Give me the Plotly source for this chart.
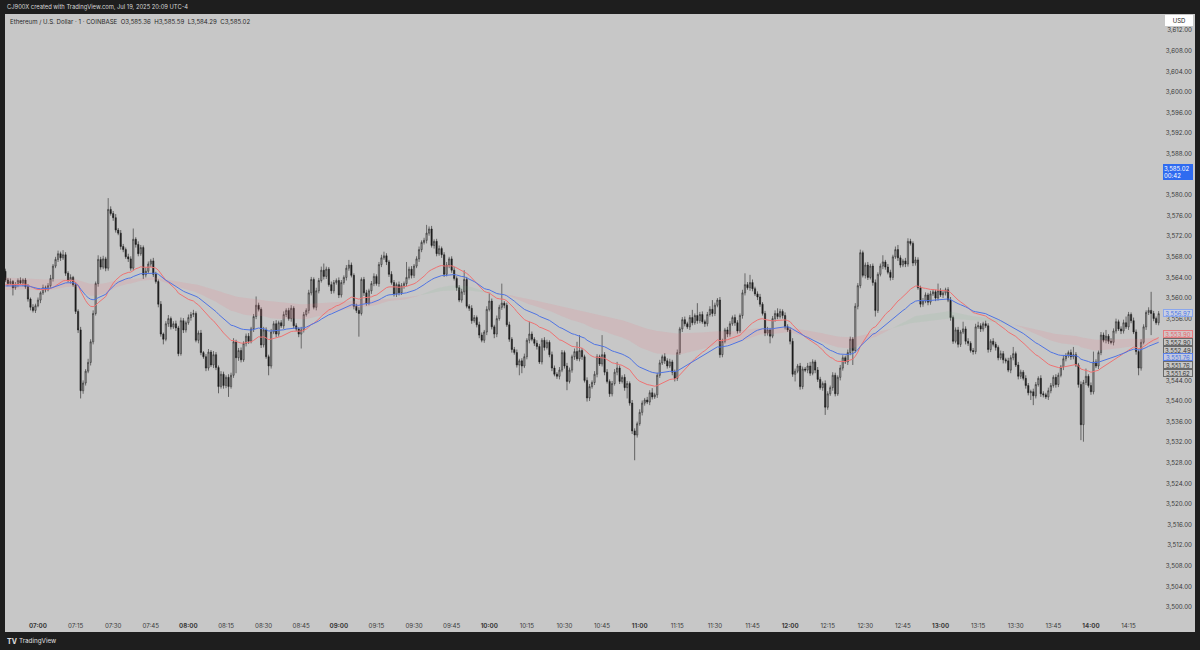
import plotly.graph_objects as go

# ---------------- data ----------------
start_time = "06:47"          # time of the first visible 1-minute candle
first_open = 3565.2

closes = [
    3563.5, 3562.8, 3563.2, 3562.0, 3562.6, 3563.4, 3562.9, 3563.5, 3562.2, 3559.8,
    3558.2, 3557.6, 3558.5, 3559.6, 3561.0, 3562.0, 3561.6, 3562.4, 3563.8, 3566.2,
    3567.5, 3568.6, 3567.8, 3568.4, 3564.8, 3563.4, 3564.0, 3562.6, 3557.4, 3553.8,
    3542.0, 3543.5, 3545.8, 3547.5, 3551.5, 3557.0, 3562.8, 3567.5, 3566.0, 3567.6,
    3565.8, 3577.2, 3576.4, 3575.6, 3573.2, 3572.6, 3570.0, 3569.4, 3568.0, 3567.6,
    3565.8, 3571.4, 3570.4, 3568.6, 3569.8, 3564.5, 3565.2, 3566.6, 3567.2, 3564.6,
    3563.2, 3558.8, 3553.0, 3552.0, 3555.0, 3556.0, 3554.4, 3555.0, 3554.2, 3549.2,
    3555.6, 3553.8, 3555.2, 3556.2, 3556.8, 3557.0, 3551.8, 3553.2, 3549.4, 3548.6,
    3546.4, 3549.5, 3547.0, 3549.0, 3546.5, 3542.8, 3545.2, 3543.0, 3544.6, 3542.8,
    3545.0, 3551.5, 3548.4, 3549.8, 3548.0, 3551.2, 3552.6, 3551.6, 3554.0, 3556.4,
    3558.6, 3557.8, 3550.9, 3553.8, 3548.6, 3546.8, 3553.4, 3555.0, 3553.0, 3555.2,
    3554.6, 3556.8, 3557.6, 3556.0, 3558.0, 3554.6, 3554.0, 3553.0, 3553.8, 3556.8,
    3557.6, 3561.0, 3563.6, 3558.2, 3561.4, 3563.4, 3565.4, 3564.2, 3565.6, 3562.6,
    3561.4, 3563.0, 3563.4, 3560.6, 3563.0, 3564.0, 3565.8, 3566.4, 3564.4, 3558.4,
    3557.6, 3557.0, 3563.6, 3561.0, 3559.0, 3561.4, 3562.8, 3564.2, 3562.8, 3566.5,
    3567.8, 3568.2, 3567.0, 3564.6, 3563.0, 3560.8, 3562.6, 3561.0, 3562.4, 3562.8,
    3564.0, 3565.6, 3564.4, 3566.2, 3567.6, 3569.4, 3570.8, 3571.2, 3572.6, 3573.4,
    3570.2, 3571.0, 3568.6, 3569.6, 3568.4, 3564.6, 3566.4, 3567.6, 3565.4, 3563.8,
    3562.0, 3559.6, 3561.2, 3563.6, 3558.4, 3558.0, 3555.6, 3556.2, 3554.8, 3552.8,
    3551.8, 3553.4, 3557.8, 3559.4, 3554.4, 3553.0, 3556.0, 3558.2, 3559.0, 3558.6,
    3554.8, 3552.0, 3550.0, 3549.4, 3547.0, 3547.8, 3546.8, 3548.6, 3551.8, 3553.0,
    3552.0, 3551.2, 3550.6, 3547.6, 3551.8, 3550.4, 3551.4, 3549.0, 3546.4, 3545.2,
    3544.8, 3546.0, 3549.4, 3546.8, 3543.8, 3546.0, 3548.6, 3549.6, 3548.2, 3549.8,
    3548.6, 3544.0, 3540.6, 3542.8, 3543.6, 3545.2, 3548.6, 3547.2, 3549.0, 3545.6,
    3543.8, 3541.4, 3543.4, 3545.6, 3546.4, 3543.8, 3544.6, 3542.6, 3543.4, 3539.6,
    3534.2, 3533.4, 3535.6, 3537.8, 3539.6, 3540.2, 3539.8, 3541.6, 3540.8, 3541.2,
    3545.0, 3547.4, 3548.6, 3547.8, 3546.8, 3547.6, 3545.6, 3544.4, 3549.4, 3554.0,
    3555.8, 3555.0, 3554.4, 3556.2, 3555.2, 3556.6, 3555.6, 3556.8, 3555.4, 3555.0,
    3556.8, 3557.8, 3557.0, 3558.6, 3559.6, 3549.0, 3551.6, 3553.8, 3553.0, 3555.0,
    3556.2, 3555.2, 3553.6, 3556.6, 3561.0, 3562.6, 3562.0, 3563.0, 3561.8, 3560.8,
    3560.2, 3558.8, 3557.0, 3553.2, 3553.8, 3552.6, 3556.0, 3557.0, 3556.4, 3557.4,
    3556.6, 3554.4, 3553.8, 3551.6, 3545.2, 3545.8, 3546.8, 3542.8, 3546.2, 3546.0,
    3546.8, 3545.4, 3547.6, 3546.0, 3544.2, 3542.6, 3543.4, 3538.8, 3541.4, 3542.6,
    3545.0, 3541.4, 3544.6, 3546.4, 3548.4, 3547.6, 3549.4, 3552.0, 3549.8, 3558.4,
    3562.4, 3568.8, 3564.4, 3566.4, 3564.0, 3566.2, 3563.0, 3557.6, 3564.6, 3566.2,
    3567.0, 3566.0, 3565.0, 3564.0, 3568.0, 3569.4, 3567.8, 3566.4, 3567.2, 3566.6,
    3571.0, 3570.6, 3566.8, 3567.4, 3562.0, 3558.8, 3559.4, 3560.6, 3559.2, 3560.8,
    3561.2, 3560.0, 3561.4, 3560.6, 3561.0, 3561.6, 3559.6, 3556.2, 3551.6, 3553.8,
    3551.0, 3553.4, 3554.0, 3551.6, 3551.2, 3549.8, 3549.6, 3554.4, 3554.6, 3554.0,
    3555.0, 3554.6, 3550.0, 3551.6, 3551.0, 3550.4, 3548.4, 3549.2, 3548.0, 3547.8,
    3546.0, 3548.4, 3549.2, 3547.0, 3544.8, 3545.6, 3544.4, 3543.0, 3541.6, 3541.8,
    3541.0, 3543.2, 3544.4, 3541.4, 3541.2, 3540.8, 3542.0, 3543.0, 3544.6, 3543.2,
    3545.0, 3546.6, 3548.2, 3548.8, 3549.4, 3548.6, 3549.0, 3547.0, 3543.2, 3535.4,
    3543.6, 3544.8, 3543.0, 3541.8, 3547.6, 3546.8, 3549.4, 3552.8, 3551.8, 3552.6,
    3551.6, 3551.4, 3553.6, 3555.4, 3554.0, 3553.6, 3555.2, 3554.4, 3556.8, 3555.6,
    3553.4, 3549.6, 3546.4, 3551.4, 3554.4, 3557.2, 3557.6, 3557.0, 3556.0, 3555.2, 3556.97,
]

upper_wick = [
    0.5, 0.4, 0.6, 0.3, 0.5, 0.4, 0.6, 0.3, 0.4, 0.5,
    0.3, 0.6, 0.4, 0.5, 0.3, 0.6, 0.4, 0.5, 0.7, 0.4,
    0.5, 0.6, 0.4, 0.9, 0.5, 0.4, 0.6, 0.3, 0.5, 0.4,
    0.6, 0.5, 0.4, 0.7, 0.5, 0.6, 0.4, 0.8, 0.5, 0.6,
    0.4, 2.2, 0.6, 0.5, 0.7, 0.4, 0.6, 0.5, 0.4, 0.6,
    0.5, 2.1, 0.4, 0.6, 0.5, 0.4, 0.7, 0.5, 0.4, 0.6,
    0.5, 0.4, 0.6, 0.3, 0.5, 0.7, 0.4, 0.5, 0.6, 0.4,
    0.6, 0.5, 0.4, 0.6, 0.5, 0.7, 0.4, 0.5, 0.6, 0.3,
    0.5, 0.6, 0.4, 0.7, 0.5, 0.4, 0.6, 0.5, 0.4, 0.6,
    0.5, 0.7, 0.4, 0.5, 0.6, 0.4, 0.5, 0.6, 0.4, 0.5,
    1.7, 0.5, 0.4, 0.6, 0.5, 0.4, 0.6, 0.5, 0.7, 0.4,
    0.5, 0.6, 0.4, 0.5, 0.6, 0.4, 0.5, 0.3, 0.6, 0.5,
    0.4, 0.6, 0.5, 0.4, 0.6, 0.5, 0.7, 1.3, 0.5, 0.4,
    0.6, 0.5, 0.4, 0.6, 0.5, 0.4, 0.6, 1.0, 0.5, 0.4,
    0.5, 0.6, 0.4, 0.5, 0.6, 0.4, 0.5, 0.6, 0.4, 0.5,
    0.6, 0.8, 0.5, 0.4, 0.6, 0.5, 0.4, 0.6, 0.5, 0.4,
    3.0, 0.5, 0.6, 0.4, 0.5, 0.6, 0.4, 0.5, 1.6, 0.5,
    0.6, 0.4, 0.5, 0.6, 0.4, 0.5, 0.6, 0.4, 0.5, 0.6,
    0.4, 0.5, 0.6, 1.8, 0.5, 0.4, 0.6, 0.5, 0.4, 0.6,
    0.5, 0.4, 0.6, 1.5, 0.5, 0.4, 0.6, 0.5, 3.8, 0.4,
    0.5, 0.6, 0.4, 0.5, 0.6, 0.4, 0.5, 0.6, 0.4, 2.4,
    0.5, 0.4, 0.6, 0.5, 0.4, 0.6, 0.5, 0.4, 0.6, 0.5,
    0.4, 0.6, 0.5, 0.4, 0.6, 0.5, 0.4, 0.6, 1.9, 3.0,
    0.5, 0.4, 0.6, 0.5, 0.4, 0.6, 0.5, 0.4, 3.8, 0.5,
    0.6, 0.4, 0.5, 0.6, 1.2, 0.5, 0.4, 0.6, 0.5, 0.4,
    0.6, 0.5, 0.4, 0.6, 0.5, 0.4, 0.6, 0.5, 0.9, 0.4,
    0.5, 0.6, 0.4, 0.7, 0.5, 0.6, 0.4, 0.5, 0.6, 0.4,
    0.5, 0.6, 0.4, 0.5, 1.5, 0.4, 2.4, 0.5, 0.6, 0.4,
    0.5, 0.6, 1.8, 0.5, 0.4, 0.6, 0.5, 0.4, 0.6, 0.5,
    0.4, 0.6, 0.5, 0.4, 0.6, 2.2, 0.5, 1.5, 0.6, 0.4,
    0.5, 0.6, 0.4, 0.5, 0.6, 0.4, 0.5, 0.6, 1.0, 0.5,
    0.4, 0.6, 0.5, 0.4, 0.6, 0.5, 0.4, 0.6, 0.5, 0.4,
    0.6, 0.8, 0.5, 0.4, 0.6, 0.5, 0.4, 0.6, 0.5, 0.4,
    0.6, 0.5, 0.4, 0.6, 0.5, 0.4, 0.6, 0.5, 0.4, 0.6,
    0.5, 0.6, 0.4, 0.5, 0.6, 0.4, 0.5, 0.6, 0.4, 0.5,
    1.3, 0.4, 0.6, 0.5, 0.4, 0.6, 0.9, 0.5, 0.4, 0.6,
    0.6, 0.5, 0.4, 0.6, 0.5, 0.4, 0.6, 0.5, 0.4, 0.6,
    0.5, 0.4, 1.4, 0.5, 0.6, 0.4, 0.5, 0.6, 0.4, 0.5,
    0.6, 0.4, 1.4, 0.5, 0.6, 0.4, 0.5, 0.6, 0.8, 0.5,
    0.4, 0.6, 0.5, 0.4, 0.6, 0.5, 0.4, 0.6, 0.5, 0.4,
    0.6, 0.5, 1.3, 0.4, 0.6, 0.5, 0.4, 0.6, 0.5, 0.4,
    0.6, 0.5, 0.4, 0.6, 0.5, 0.4, 0.6, 0.5, 0.4, 0.6,
    0.5, 0.4, 0.6, 0.5, 0.4, 0.6, 1.5, 0.5, 0.4, 0.6,
    0.5, 1.5, 0.4, 0.6, 2.0, 0.5, 0.4, 0.6, 0.5, 1.2,
    0.4, 0.6, 0.5, 0.6, 0.4, 0.5, 0.6, 1.2, 0.5, 0.4,
    0.6, 0.5, 0.4, 0.6, 0.5, 0.4, 0.6, 3.6, 0.5, 0.4, 0.5,
]

lower_wick = [
    0.4, 0.5, 0.3, 1.5, 0.4, 0.5, 0.3, 0.6, 0.4, 0.5,
    0.6, 0.4, 0.5, 0.3, 0.6, 0.4, 0.5, 0.3, 0.4, 0.6,
    0.4, 0.5, 0.6, 0.4, 0.5, 0.3, 0.6, 0.4, 0.5, 0.6,
    1.5, 0.6, 0.5, 0.4, 0.6, 0.5, 0.4, 0.6, 0.5, 0.4,
    0.6, 0.5, 0.4, 0.6, 0.5, 0.4, 0.6, 0.5, 0.4, 0.6,
    0.5, 0.4, 0.6, 0.5, 0.4, 0.8, 0.5, 0.4, 0.6, 0.5,
    0.4, 0.6, 0.5, 1.0, 0.4, 0.6, 0.5, 0.4, 0.6, 0.5,
    0.4, 0.6, 0.5, 0.4, 0.6, 0.5, 0.4, 0.6, 0.5, 0.4,
    0.6, 0.5, 0.4, 0.6, 0.5, 1.3, 0.4, 0.6, 0.5, 2.0,
    0.4, 0.5, 3.0, 0.6, 0.5, 0.4, 0.6, 0.5, 0.4, 0.6,
    0.5, 0.4, 0.6, 0.5, 0.4, 1.8, 0.5, 0.4, 0.6, 0.5,
    0.4, 0.6, 0.5, 0.4, 0.6, 0.5, 0.4, 0.6, 2.8, 0.5,
    0.4, 0.6, 0.5, 0.4, 0.6, 0.5, 0.4, 0.6, 0.5, 0.4,
    0.6, 0.5, 0.4, 0.6, 0.5, 0.4, 0.6, 0.5, 0.4, 0.6,
    0.5, 4.5, 0.4, 0.6, 0.5, 0.4, 0.6, 0.5, 0.4, 0.6,
    0.5, 0.4, 0.6, 0.5, 0.4, 0.5, 0.6, 0.5, 0.4, 0.6,
    0.5, 0.4, 0.6, 0.5, 0.4, 0.6, 0.5, 0.4, 0.6, 0.5,
    0.4, 0.6, 0.5, 0.4, 0.6, 0.5, 0.4, 0.6, 0.5, 0.4,
    0.6, 0.4, 0.5, 0.6, 0.4, 0.5, 0.6, 0.4, 0.5, 0.6,
    0.4, 0.5, 0.6, 0.4, 0.5, 0.8, 0.6, 0.4, 0.5, 0.6,
    0.4, 0.5, 0.6, 0.4, 0.5, 2.0, 1.4, 0.4, 0.5, 0.6,
    0.4, 0.5, 0.6, 0.4, 0.5, 0.6, 0.4, 0.5, 0.6, 0.4,
    0.5, 0.6, 0.4, 0.5, 1.7, 0.4, 0.5, 0.6, 0.4, 0.5,
    0.6, 0.4, 0.7, 0.6, 0.4, 0.5, 0.6, 0.4, 0.5, 0.6,
    0.4, 0.6, 0.5, 0.4, 0.6, 0.5, 0.4, 0.6, 2.1, 0.5,
    0.6, 4.9, 0.5, 0.4, 0.6, 0.5, 0.4, 0.6, 0.5, 0.4,
    0.6, 0.5, 0.4, 0.6, 0.5, 0.4, 0.6, 0.6, 0.5, 0.4,
    0.6, 0.5, 0.4, 0.6, 0.5, 0.4, 0.6, 0.5, 0.4, 0.6,
    0.5, 0.4, 0.6, 0.5, 0.4, 0.6, 0.5, 0.4, 0.6, 0.5,
    0.4, 0.6, 0.5, 0.4, 0.6, 0.5, 0.4, 0.6, 0.5, 0.4,
    0.6, 0.5, 0.4, 0.6, 0.5, 1.4, 0.4, 0.6, 0.5, 0.4,
    0.6, 0.5, 0.4, 0.6, 0.5, 1.4, 0.4, 0.6, 0.5, 0.4,
    0.6, 0.5, 0.4, 0.6, 0.5, 0.4, 0.6, 1.5, 0.5, 0.4,
    0.6, 0.5, 0.4, 0.6, 0.5, 0.4, 0.6, 0.5, 2.8, 0.4,
    0.6, 0.5, 0.4, 0.6, 0.5, 0.4, 0.6, 1.2, 0.5, 0.4,
    0.6, 0.5, 0.4, 0.6, 0.5, 0.4, 0.6, 0.5, 0.4, 0.6,
    0.5, 0.4, 0.6, 0.5, 0.4, 0.6, 0.5, 0.4, 0.6, 0.5,
    0.4, 0.6, 0.5, 0.4, 0.6, 0.5, 0.4, 0.6, 0.5, 0.4,
    0.6, 0.5, 0.4, 0.6, 0.5, 0.4, 0.6, 0.5, 0.4, 0.6,
    0.5, 0.4, 0.6, 0.5, 0.4, 0.6, 0.5, 0.4, 0.7, 0.5,
    0.4, 0.6, 0.5, 0.4, 0.6, 0.5, 0.4, 0.6, 0.5, 1.4,
    1.8, 0.5, 0.4, 0.6, 0.5, 0.4, 0.6, 0.5, 0.4, 0.6,
    0.5, 0.4, 0.6, 0.5, 0.4, 0.6, 0.5, 0.4, 0.6, 3.0,
    3.3, 0.5, 0.4, 0.6, 0.5, 0.4, 0.6, 0.5, 0.4, 0.6,
    0.5, 0.4, 0.6, 0.5, 0.4, 0.6, 0.5, 0.4, 0.6, 0.5,
    0.4, 0.6, 1.4, 0.5, 0.4, 0.6, 0.5, 4.2, 0.5, 0.4, 0.5,
]

tick_labels = ["07:00", "07:15", "07:30", "07:45", "08:00", "08:15", "08:30", "08:45",
               "09:00", "09:15", "09:30", "09:45", "10:00", "10:15", "10:30", "10:45",
               "11:00", "11:15", "11:30", "11:45", "12:00", "12:15", "12:30", "12:45",
               "13:00", "13:15", "13:30", "13:45", "14:00", "14:15"]
price_ticks = [3500, 3504, 3508, 3512, 3516, 3520, 3524, 3528, 3532, 3536, 3540, 3544,
               3556, 3560, 3564, 3568, 3572, 3576, 3580, 3588, 3592, 3596, 3600,
               3604, 3608, 3612]   # 3548/3552/3584 are hidden behind price labels

# indicator settings / seeds (values at the left edge)
ema_fast_len, ema_fast_seed = 34, 3562.5
ema_slow_len, ema_slow_seed = 55, 3562.3
cloud_a_len, cloud_a_seed = 100, 3561.5
cloud_b_len, cloud_b_seed = 200, 3564.0

# texts
watermark = "CJ900X created with TradingView.com, Jul 19, 2025 20:09 UTC-4"
symbol_title = "Ethereum / U.S. Dollar · 1 · COINBASE"
ohlc_values = ["O3,585.36", "H3,585.59", "L3,584.29", "C3,585.02"]
live_price, countdown = "3,585.02", "00:42"
live_price_value = 3585.02
scale_labels = ["3,556.97", "3,553.90", "3,552.90", "3,552.49", "3,551.76", "3,551.76", "3,551.62"]
scale_label_kind = ["last", "red", "gray", "gray", "blue", "gray", "gray"]

# ---------------- derived ----------------
n = len(closes)
opens = [first_open] + closes[:-1]
highs = [max(o, c) + u for o, c, u in zip(opens, closes, upper_wick)]
lows = [min(o, c) - d for o, c, d in zip(opens, closes, lower_wick)]
xs = list(range(n))


def ema(vals, length, seed):
    a = 2.0 / (length + 1)
    out, e = [], seed
    for v in vals:
        e = e + a * (v - e)
        out.append(e)
    return out


ema_fast = ema(closes, ema_fast_len, ema_fast_seed)
ema_slow = ema(closes, ema_slow_len, ema_slow_seed)
cloud_a = ema(closes, cloud_a_len, cloud_a_seed)
cloud_b = ema(closes, cloud_b_len, cloud_b_seed)


def minutes(t):
    h, m = t.split(":")
    return int(h) * 60 + int(m)


t0 = minutes(start_time)
tick_pos = [minutes(t) - t0 for t in tick_labels]
tick_text = [f"<b>{t}</b>" if t.endswith(":00") else t for t in tick_labels]

# ---------------- figure geometry (pixels) ----------------
W, H = 1200, 650
ML, MR, MT, MB = 5, 5, 14, 18
PW, PH = W - ML - MR, H - MT - MB
BG = "#c7c7c7"
FRAME = "#1e1e1e"
FONT = "Inter, Roboto, Arial, sans-serif"

x_range = [-0.16, 474.5]
y_range = [3495.15, 3615.15]


def px_x(px):
    return (px - ML) / PW


def px_y(py):
    return (H - MB - py) / PH


fig = go.Figure()

# cloud between the two slow EMAs, pink when bearish, green when bullish
segs = []
cur = [0]
for i in range(1, n):
    if (cloud_a[i] < cloud_b[i]) == (cloud_a[i - 1] < cloud_b[i - 1]):
        cur.append(i)
    else:
        cur.append(i)
        segs.append(cur)
        cur = [i]
segs.append(cur)
for seg in segs:
    j = seg[1] if len(seg) > 1 else seg[0]
    bear = cloud_a[j] < cloud_b[j]
    col = "rgba(235,120,130,0.16)" if bear else "rgba(110,190,130,0.10)"
    sx = [xs[i] for i in seg] + [xs[i] for i in reversed(seg)]
    sy = [cloud_a[i] for i in seg] + [cloud_b[i] for i in reversed(seg)]
    fig.add_trace(go.Scatter(x=sx, y=sy, fill="toself", fillcolor=col, mode="lines",
                             line=dict(width=0), hoverinfo="skip", showlegend=False))

fig.add_trace(go.Scatter(x=xs, y=ema_fast, mode="lines",
                         line=dict(color="#ef7272", width=1), showlegend=False, hoverinfo="skip"))
fig.add_trace(go.Scatter(x=xs, y=ema_slow, mode="lines",
                         line=dict(color="#4f74e3", width=1), showlegend=False, hoverinfo="skip"))

fig.add_trace(go.Candlestick(
    x=xs, open=opens, high=highs, low=lows, close=closes,
    increasing=dict(fillcolor="#ababab", line=dict(color="#2a2a2a", width=0.6)),
    decreasing=dict(fillcolor="#1c1c1c", line=dict(color="#1c1c1c", width=0.6)),
    whiskerwidth=0, showlegend=False))

fig.update_layout(
    width=W, height=H,
    margin=dict(l=ML, r=MR, t=MT, b=MB, pad=0),
    paper_bgcolor=FRAME, plot_bgcolor=BG,
    font=dict(family=FONT, size=7, color="#3a3a3a"),
    showlegend=False,
    xaxis=dict(range=x_range, showgrid=False, zeroline=False, showline=False,
               tickmode="array", tickvals=tick_pos, ticktext=tick_text,
               ticks="", ticklabelposition="inside", tickfont=dict(size=6.2, color="#3a3a3a"),
               rangeslider=dict(visible=False), fixedrange=True),
    yaxis=dict(range=y_range, side="right", showgrid=False, zeroline=False, showline=False,
               tickmode="array", tickvals=price_ticks, tickformat=",.2f",
               ticks="", ticklabelposition="inside", tickfont=dict(size=6.2, color="#3a3a3a"),
               fixedrange=True),
)

ann = []
ann.append(dict(xref="paper", yref="paper", x=px_x(5), y=px_y(7), xanchor="left", yanchor="middle",
                text=watermark, showarrow=False, font=dict(size=5.8, color="#d6d6d6")))
ann.append(dict(xref="paper", yref="paper", x=px_x(8), y=px_y(21), xanchor="left", yanchor="middle",
                text=symbol_title + "&nbsp;&nbsp;" + "&nbsp;&nbsp;".join(ohlc_values),
                showarrow=False, font=dict(size=6.1, color="#2a2a2a")))
ann.append(dict(xref="paper", yref="paper", x=px_x(5), y=px_y(641), xanchor="left", yanchor="middle",
                text="<b>TV</b>", showarrow=False, font=dict(size=7, color="#e0e0e0")))
ann.append(dict(xref="paper", yref="paper", x=px_x(17), y=px_y(641), xanchor="left", yanchor="middle",
                text="TradingView", showarrow=False, font=dict(size=6.3, color="#e0e0e0")))
ann.append(dict(xref="paper", yref="paper", x=px_x(1179), y=px_y(20.5), xanchor="center", yanchor="middle",
                text="USD", showarrow=False, font=dict(size=6, color="#222"),
                bgcolor="#ffffff", bordercolor="#ffffff", borderwidth=1, borderpad=1, width=24, height=7))
ann.append(dict(xref="paper", yref="y", x=px_x(1178), y=live_price_value, xanchor="center", yanchor="top",
                yshift=5, text=f"{live_price}<br>{countdown}", showarrow=False, align="left",
                font=dict(size=6, color="#ffffff"), bgcolor="#2f6bf0", bordercolor="#2f6bf0",
                borderwidth=1, borderpad=0, width=28, height=14))
styles = {
    "last": dict(bg="#c9d0e2", border="#8aa6ec", fg="#4d77e8"),
    "red": dict(bg="#d4c3c5", border="#e57c80", fg="#e46a6e"),
    "gray": dict(bg="#c7c7c7", border="#6a6a6a", fg="#3a3a3a"),
    "blue": dict(bg="#c3c9de", border="#5a7fe6", fg="#4570e6"),
}
stack_top_px, stack_step_px = 334, 7.8
for k, (txt, kind) in enumerate(zip(scale_labels, scale_label_kind)):
    st = styles[kind]
    py = 313 if k == 0 else stack_top_px + (k - 1) * stack_step_px
    ann.append(dict(xref="paper", yref="paper", x=px_x(1178), y=px_y(py), xanchor="center",
                    yanchor="middle", text=txt, showarrow=False, font=dict(size=6, color=st["fg"]),
                    bgcolor=st["bg"], bordercolor=st["border"], borderwidth=1, borderpad=0,
                    width=28, height=6))
fig.update_layout(annotations=ann)

fig.write_html("out.html", config={"displayModeBar": False},
               post_script="document.body.style.margin='0';document.body.style.background='#1e1e1e';")
